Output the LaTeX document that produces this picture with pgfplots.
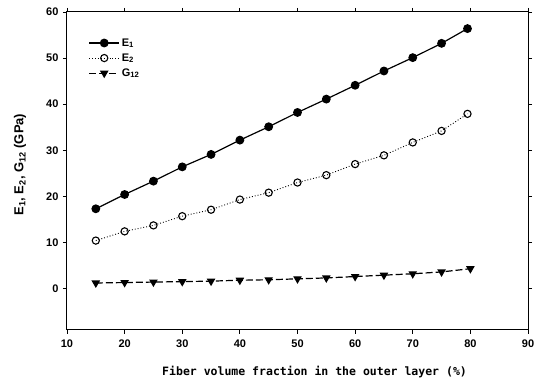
\documentclass[border=0pt]{standalone}
\usepackage{pgfplots}
\pgfplotsset{compat=1.18}
\usepackage{fontspec}
\setmainfont{Liberation Sans}
\newfontfamily\monofont{DejaVu Sans Mono}
\begin{document}
\begin{tikzpicture}
\begin{axis}[
  scale only axis,
  width=461pt, height=318pt,
  xmin=10, xmax=90, ymin=-9, ymax=60,
  xtick={10,20,...,90}, ytick={0,10,...,60},
  tick align=outside,
  major tick length=4pt,
  axis line style={line width=1pt},
  tick style={line width=0.8pt, black},
  /pgf/number format/assume math mode=true,
  tick label style={font=\fontsize{11}{13}\selectfont\bfseries},
  y tick label style={xshift=-1pt},
  x tick label style={yshift=-2pt},
  xlabel={\monofont\bfseries\fontsize{11.5}{13}\selectfont Fiber volume fraction in the outer layer (\%)},
  ylabel={\fontsize{13}{15}\selectfont\bfseries E\textsubscript{1}, E\textsubscript{2}, G\textsubscript{12} (GPa)},
  xlabel style={at={(axis description cs:0.537,0)}, anchor=center, yshift=-42pt},
  ylabel style={at={(axis description cs:0,0.52)}, anchor=center, yshift=47pt},
  legend style={draw=none, fill=none, at={(0.04,0.93)}, anchor=north west,
    font=\fontsize{11}{13}\selectfont\bfseries, row sep=2pt},
  legend cell align=left,
  legend image code/.code={\draw[mark repeat=2,mark phase=2] plot coordinates {(0pt,0pt)(15pt,0pt)(30pt,0pt)};},
]
\addplot[black, line width=1.2pt, mark=*, mark size=3.8pt] coordinates {
(15,17.3) (20,20.4) (25,23.3) (30,26.4) (35,29.1) (40,32.2) (45,35.1) (50,38.2) (55,41.1) (60,44.1) (65,47.2) (70,50.1) (75,53.2) (79.5,56.4)};
\addlegendentry{E\textsubscript{1}}
\addplot[black, line width=0.9pt, dotted, mark=o, mark size=3.6pt, mark options={solid, line width=1.1pt}] coordinates {
(15,10.4) (20,12.4) (25,13.7) (30,15.7) (35,17.1) (40,19.3) (45,20.8) (50,23.0) (55,24.6) (60,27.0) (65,28.9) (70,31.7) (75,34.2) (79.5,37.9)};
\addlegendentry{E\textsubscript{2}}
\addplot[black, line width=1.2pt, dash pattern=on 7pt off 3pt, mark=triangle*, mark size=3.8pt, mark options={solid, rotate=180}] coordinates {
(15,1.2) (20,1.3) (25,1.4) (30,1.5) (35,1.6) (40,1.8) (45,1.9) (50,2.1) (55,2.3) (60,2.6) (65,2.9) (70,3.2) (75,3.6) (80,4.3)};
\addlegendentry{G\textsubscript{12}}
\end{axis}
\pgfresetboundingbox
\path[use as bounding box] (current axis.south west) ++(-67pt,-52pt) rectangle ++(534pt,382pt);
\end{tikzpicture}
\end{document}
